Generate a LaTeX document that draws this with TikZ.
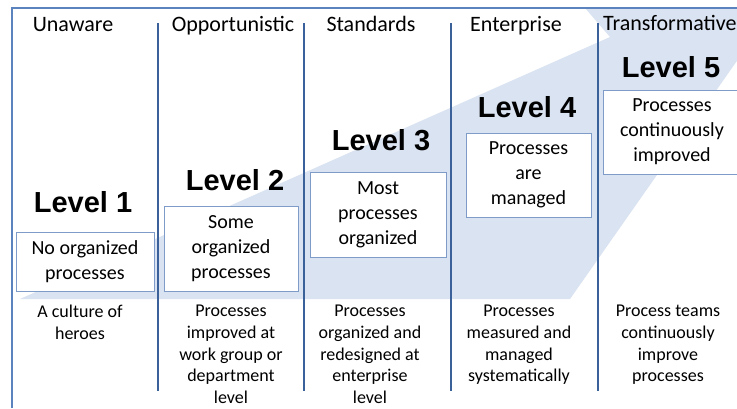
\documentclass[tikz,border=0pt]{standalone}
\usepackage{fontspec}
\setmainfont{Carlito}
\newfontfamily\levelfont{Liberation Sans}
\definecolor{bandblue}{HTML}{DAE3F1}
\definecolor{frameblue}{HTML}{5B84BF}
\definecolor{colline}{HTML}{3A6199}
\definecolor{boxline}{HTML}{7F9CC8}

\begin{document}
\begin{tikzpicture}[x=1pt, y=-1pt,
    stage/.style = {anchor=base, inner sep=0pt, font=\fontsize{22}{26}\selectfont},
    level/.style = {anchor=base, inner sep=0pt, font=\levelfont\bfseries\fontsize{29}{34}\selectfont},
    state/.style = {draw=boxline, fill=white, line width=0.8pt, inner sep=0pt, align=center,
                    font=\fontsize{20}{25}\selectfont},
    trait/.style = {anchor=north, inner sep=0pt, align=center, font=\fontsize{18}{21.7}\selectfont},
   ]
  \clip (0,0) rectangle (737,408);
  \fill[white] (0,0) rectangle (737,408);
  % the rising band
  \fill[bandblue] (20,299) -- (610,37) -- (585,8) -- (774,8) -- (570,299) -- cycle;
  \draw[frameblue, line width=2.2pt] (12,408) -- (12,8) -- (737,8);
  \foreach \x in {158,304,451,598}
    \draw[colline, line width=2.8pt] (\x,23) -- (\x,391);

  % stage names
  \node[stage] (unaware) at (73,31) {Unaware};
  \node[stage] (opport) at (233,31) {Opportunistic};
  \node[stage] (standards) at (371,31) {Standards};
  \node[stage] (enterprise) at (516,31) {Enterprise};
  \node[stage, anchor=base west] (transform) at (603,30) {Transformative};

  % levels
  \node[level] (lvl1) at (83,212) {Level 1};
  \node[level] (lvl2) at (235,190) {Level 2};
  \node[level] (lvl3) at (381,150) {Level 3};
  \node[level] (lvl4) at (527,117) {Level 4};
  \node[level] (lvl5) at (671,77) {Level 5};

  \node[state, minimum width=138pt, minimum height=59pt] (box1) at (85,261.5) {No organized\\processes};
  \node[state, minimum width=134pt, minimum height=85pt] (box2) at (231,248.5) {Some\\organized\\processes};
  \node[state, minimum width=136pt, minimum height=85pt] (box3) at (378,214.5) {Most\\processes\\organized};
  \node[state, minimum width=125pt, minimum height=84pt] (box4) at (528.5,175) {Processes\\are\\managed};
  \node[state, minimum width=138pt, minimum height=84pt] (box5) at (672,132) {Processes\\continuously\\improved};

  % what each level looks like
  \node[trait] (trait1) at (80,305) {A culture of\\heroes};
  \node[trait] (trait2) at (231,305) {Processes\\improved at\\work group or\\department\\level};
  \node[trait] (trait3) at (370,305) {Processes\\organized and\\redesigned at\\enterprise\\level};
  \node[trait] (trait4) at (519,305) {Processes\\measured and\\managed\\systematically};
  \node[trait] (trait5) at (668,305) {Process teams\\continuously\\improve\\processes};
\end{tikzpicture}
\end{document}
